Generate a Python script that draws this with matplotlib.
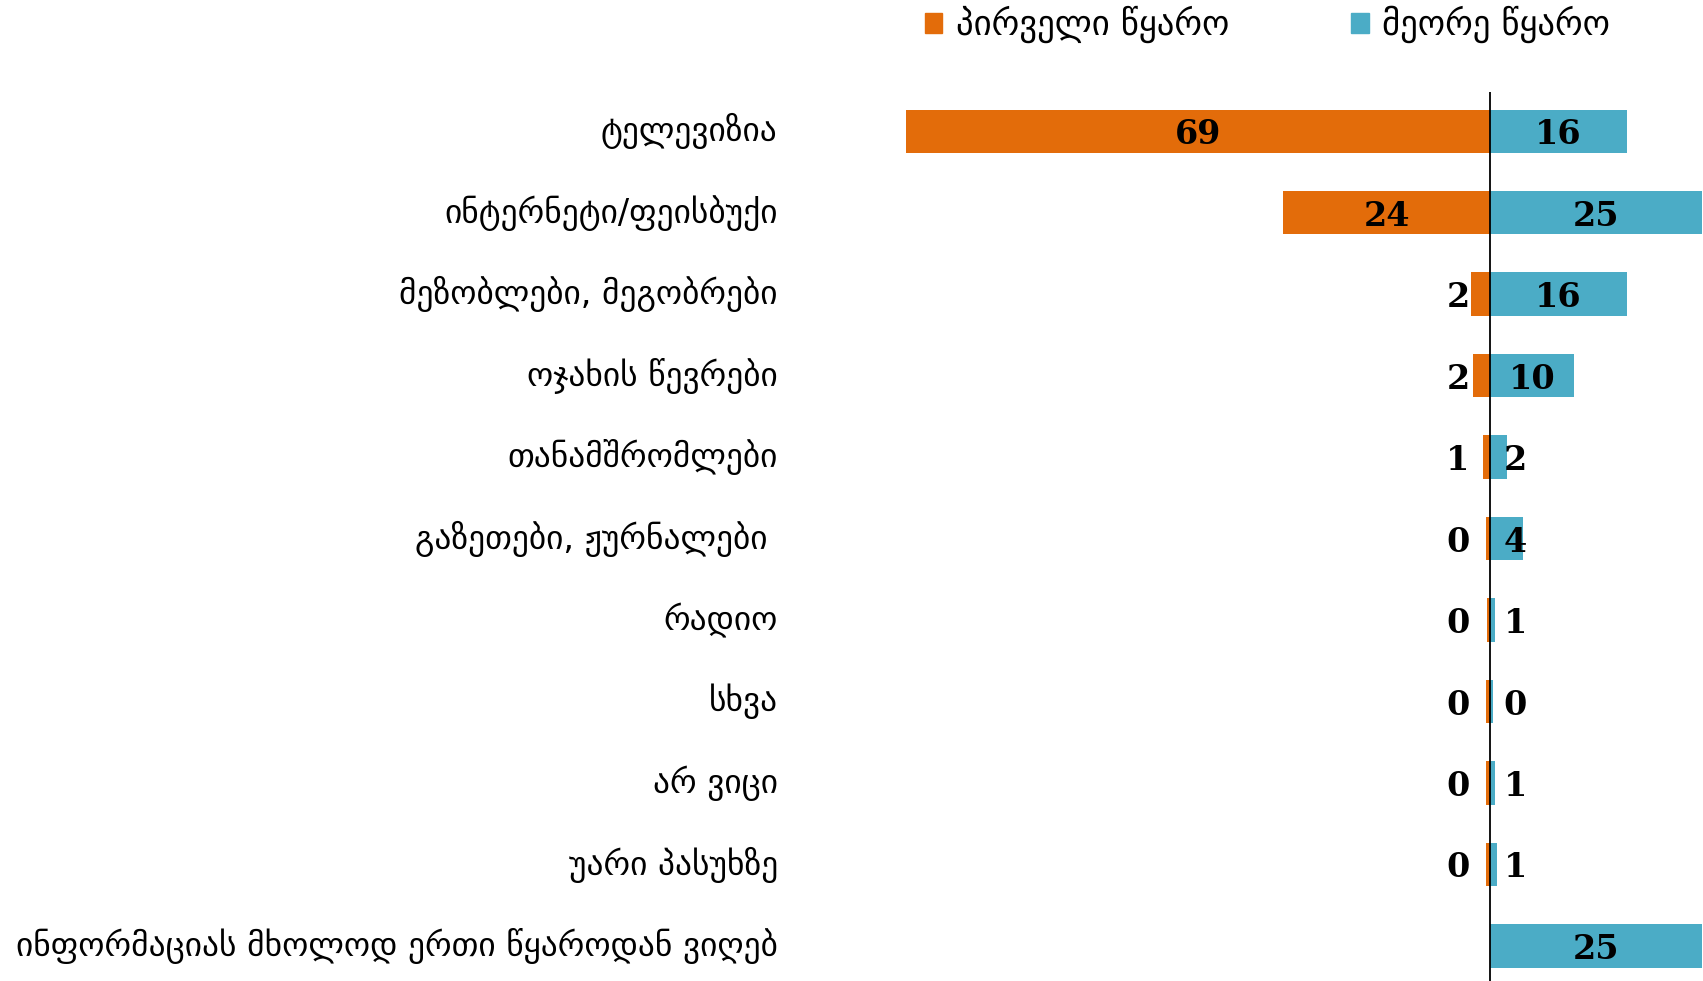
"""Divergent bar chart: first vs second source of information."""
import numpy as np
import matplotlib.pyplot as plt
from matplotlib.patches import Patch

categories = ["ტელევიზია", "ინტერნეტი/ფეისბუქი", "მეზობლები, მეგობრები",
              "ოჯახის წევრები", "თანამშრომლები", "გაზეთები, ჟურნალები ",
              "რადიო", "სხვა", "არ ვიცი", "უარი პასუხზე",
              "ინფორმაციას მხოლოდ ერთი წყაროდან ვიღებ"]
first_src = [69, 24.4, 2.3, 2.05, 0.8, 0.45, 0.35, 0.45, 0.45, 0.45, np.nan]
second_src = [16.2, 25, 16.2, 9.9, 2.0, 3.9, 0.6, 0.3, 0.6, 0.8, 25]
series_names = ["პირველი წყარო", "მეორე წყარო"]

ORANGE = "#E36C0A"
BLUE = "#4BACC6"
label_font = dict(family="DejaVu Serif", weight="bold", size=24, color="black")

fig = plt.figure(figsize=(17.03, 9.81), dpi=100)
ax = fig.add_axes([800 / 1703, 0, 903 / 1703, (981 - 92) / 981])

y = np.arange(len(categories))
first_arr = np.array(first_src, dtype=float)
second_arr = np.array(second_src, dtype=float)
ax.barh(y, -np.nan_to_num(first_arr), height=0.53, color=ORANGE)
ax.barh(y, second_arr, height=0.53, color=BLUE)
ax.axvline(0, color="black", linewidth=1.3)

for i, (a, b) in enumerate(zip(first_arr, second_arr)):
    if not np.isnan(a):
        xa = -a / 2 if a >= 8 else -3.8
        ax.text(xa, i, f"{round(a)}", ha="center", va="center_baseline", **label_font)
    xb = b / 2 if b >= 8 else 3.0
    ax.text(xb, i, f"{round(b)}", ha="center", va="center_baseline", **label_font)

ax.set_xlim(-81.5, 25.15)
ax.set_ylim(10.43, -0.48)
ax.set_yticks(y)
ax.set_yticklabels(categories, fontsize=24, family="DejaVu Sans", va="center")
ax.tick_params(axis="y", length=0, pad=16)
ax.set_xticks([])
for s in ax.spines.values():
    s.set_visible(False)

handles = [Patch(color=ORANGE), Patch(color=BLUE)]
fig.legend(handles, series_names, loc="center left", bbox_to_anchor=(0.533, 0.975),
           ncol=2, frameon=False, fontsize=25, handlelength=0.5, borderpad=0,
           handleheight=0.5, handletextpad=0.4, columnspacing=3.5)

fig.savefig("out.png", dpi=100)
